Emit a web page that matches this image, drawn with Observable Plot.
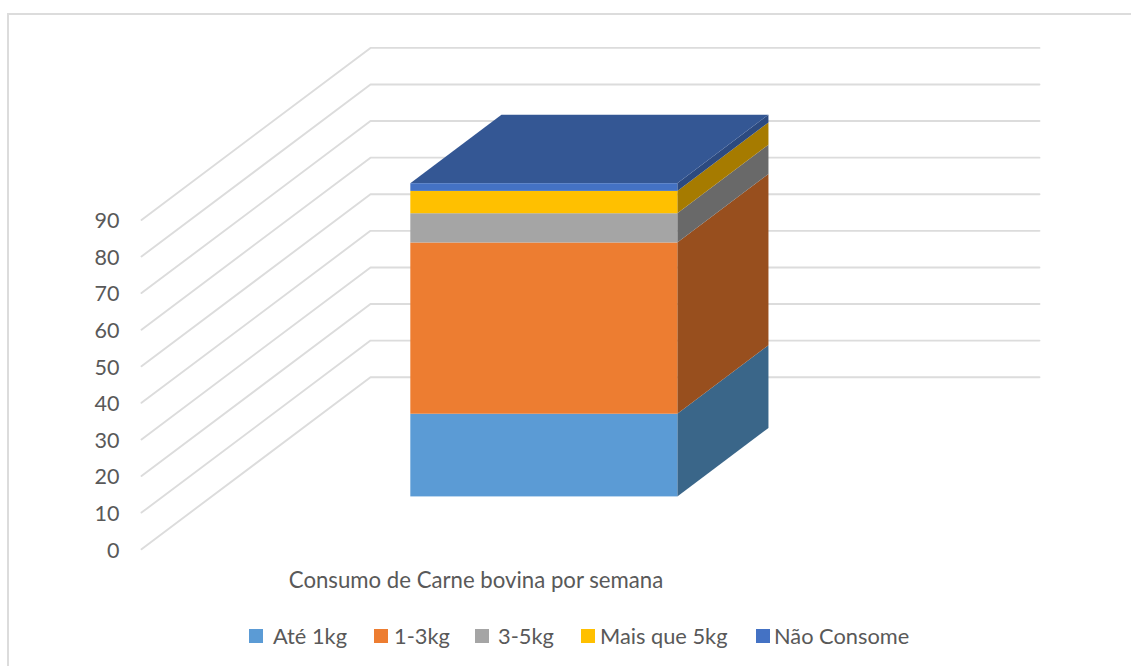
<!DOCTYPE html>
<html lang="pt">
<head>
<meta charset="utf-8">
<style>
  html, body { margin: 0; padding: 0; background: #fff; }
  #page { position: relative; width: 1131px; height: 666px; overflow: hidden; font-family: Lato, sans-serif; color: #595959; }
  #frame { position: absolute; left: 7px; top: 13px; width: 1200px; height: 800px; border: 2px solid #dcdcdc; box-sizing: border-box; }
  #chart { position: absolute; left: 0; top: 0; }
  #legend { position: absolute; left: 0; top: 610px; width: 1131px; height: 56px; }
  .key { position: absolute; top: 19px; width: 14px; height: 14px; }
  .lab { position: absolute; top: 13px; font-size: 21.8px; line-height: 26px; white-space: nowrap; }
</style>
</head>
<body>
<div id="page">
  <div id="frame"></div>
  <div id="chart"></div>
  <div id="legend"></div>
</div>
<script src="https://cdn.jsdelivr.net/npm/d3@7"></script>
<script src="https://cdn.jsdelivr.net/npm/@observablehq/plot@0.6"></script>
<script>
// ---- data ----
const category = "Consumo de Carne bovina por semana";
const series = ["Até 1kg", "1-3kg", "3-5kg", "Mais que 5kg", "Não Consome"];
const values = [22.6, 46.8, 8.0, 6.1, 2.1];
const yTicks = [0, 10, 20, 30, 40, 50, 60, 70, 80, 90];

// ---- styles ----
const frontColors = ["#5B9BD5", "#ED7D31", "#A5A5A5", "#FFC000", "#4472C4"];
const sideColors = ["#3A6689", "#984F1E", "#696969", "#A67B00", "#2C4A80"];
const topColor = "#345794";

// ---- oblique projection of the 3-D chart box ----
const W = 1131, H = 610;
const pxPerUnit = 3.659;       // pixels per value unit on the wall
const wallBaseline = 376.7;    // pixel row of value 0 on the back wall
const originX = 141;           // pixel column of the front floor corner
const wallWidth = 669;         // length of the category axis
const depthX = 229;            // horizontal shift front to back
const depthY = 172 / pxPerUnit; // rise front to back, in value units
const barU = [199.7, 466.7];   // bar extent along the category axis
const barD = [0.304, 0.702];   // bar extent along the depth axis

const px = (u, d) => u + depthX * d;
const py = (v, d) => v + (d - 1) * depthY;

// ---- stack ----
let acc = 0;
const stack = values.map((v, i) => {
  const s = {series: series[i], v0: acc, v1: acc + v, front: frontColors[i], side: sideColors[i]};
  acc += v;
  return s;
});
const total = acc;

// ---- marks ----
const gridLines = yTicks.flatMap(t => [
  {t, x: px(0, 0), y: py(t, 0)},
  {t, x: px(0, 1), y: py(t, 1)},
  {t, x: px(wallWidth, 1), y: py(t, 1)}
]);

const frontMarks = stack.map(s => Plot.rect([s], {
  x1: () => px(barU[0], barD[0]),
  x2: () => px(barU[1], barD[0]),
  y1: () => py(s.v0, barD[0]),
  y2: () => py(s.v1, barD[0]),
  fill: s.front
}));

const sideMarks = stack.map(s => Plot.areaY(barD.map(d => ({d})), {
  x: p => px(barU[1], p.d),
  y1: p => py(s.v0, p.d),
  y2: p => py(s.v1, p.d),
  fill: s.side
}));

const topMark = Plot.areaX(barD.map(d => ({d})), {
  y: p => py(total, p.d),
  x1: p => px(barU[0], p.d),
  x2: p => px(barU[1], p.d),
  fill: topColor
});

const chart = Plot.plot({
  width: W,
  height: H,
  marginTop: 0, marginRight: 0, marginBottom: 0, marginLeft: 0,
  x: {domain: [-originX, W - originX], range: [0, W], axis: null},
  y: {domain: [(wallBaseline - H) / pxPerUnit, wallBaseline / pxPerUnit], range: [H, 0], axis: null},
  style: {background: "transparent", fontFamily: "Lato, sans-serif", color: "#595959"},
  marks: [
    Plot.line(gridLines, {x: "x", y: "y", z: "t", stroke: "#dcdcdc", strokeWidth: 1.9}),
    ...sideMarks,
    topMark,
    ...frontMarks,
    Plot.text(yTicks, {
      x: () => px(0, 0),
      y: t => py(t, 0),
      text: t => String(t),
      dx: -22,
      dy: 1.5,
      textAnchor: "end",
      lineAnchor: "middle",
      fontSize: 21.5,
      fill: "#595959"
    }),
    Plot.text([category], {
      x: () => px(wallWidth / 2, 0),
      y: () => py(0, 0),
      text: d => d,
      dy: 32,
      textAnchor: "middle",
      lineAnchor: "middle",
      fontSize: 22.2,
      fill: "#595959"
    })
  ]
});
document.getElementById("chart").append(chart);

// ---- legend below the SVG ----
const keyLeft = [249, 374, 475, 581, 756];
const labLeft = [273, 394, 498, 600, 774];
const legend = document.getElementById("legend");
series.forEach((name, i) => {
  const k = document.createElement("div");
  k.className = "key";
  k.style.left = keyLeft[i] + "px";
  k.style.background = frontColors[i];
  const t = document.createElement("div");
  t.className = "lab";
  t.style.left = labLeft[i] + "px";
  t.textContent = name;
  legend.append(k, t);
});
</script>
</body>
</html>
